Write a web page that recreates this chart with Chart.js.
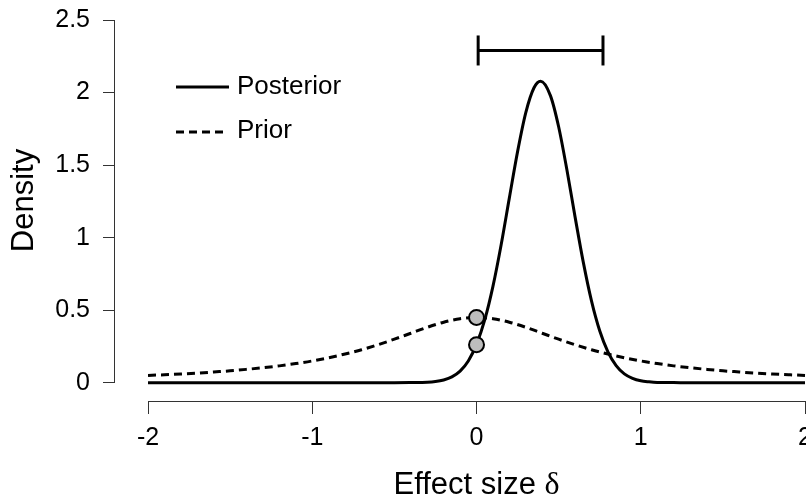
<!DOCTYPE html>
<html><head><meta charset="utf-8">
<script src="https://cdn.jsdelivr.net/npm/chart.js@4.4.1/dist/chart.umd.min.js"></script>
<style>html,body{margin:0;padding:0;background:#fff;overflow:hidden}canvas{display:block}</style>
</head><body>
<canvas id="c" width="806" height="498"></canvas>
<script>
// ---- data ----
const xPrior = [-2.0,-1.9,-1.8,-1.7,-1.6,-1.5,-1.4,-1.3,-1.2,-1.1,-1.0,-0.9,-0.8,-0.7,-0.6,-0.5,-0.4,-0.3,-0.2,-0.1,0,
                0.1,0.2,0.3,0.4,0.5,0.6,0.7,0.8,0.9,1.0,1.1,1.2,1.3,1.4,1.5,1.6,1.7,1.8,1.9,2.0];
const priorDensity = [0.050,0.055,0.060,0.066,0.074,0.082,0.092,0.103,0.116,0.132,0.150,0.172,0.198,0.227,0.262,0.300,0.341,0.382,0.417,0.441,0.450,
                      0.441,0.417,0.382,0.341,0.300,0.262,0.227,0.198,0.172,0.150,0.132,0.116,0.103,0.092,0.082,0.074,0.066,0.060,0.055,0.050];
const xPosterior = [-2,-1.5,-1,-0.7,-0.5,-0.4,-0.3,-0.25,-0.2,-0.15,-0.1,-0.05,0,0.05,0.1,0.15,0.2,0.25,0.3,0.35,0.39,0.45,0.5,0.55,0.6,0.65,0.7,0.75,0.8,0.85,0.9,0.95,1.0,1.05,1.1,1.2,1.3,1.5,1.75,2];
const posteriorDensity = [0,0,0,0,0,0.001,0.003,0.008,0.019,0.040,0.080,0.150,0.264,0.433,0.664,0.951,1.274,1.593,1.862,2.033,2.078,1.979,1.764,1.469,1.143,0.831,0.564,0.358,0.213,0.118,0.061,0.030,0.013,0.006,0.002,0.001,0,0,0,0];
const pointX = [0, 0];
const pointDensity = [0.450, 0.262];
const ciBounds = [0.01, 0.77];
const ciLevel = 2.29;
const xTicks = [-2,-1,0,1,2];
const xTickLabels = ['-2','-1','0','1','2'];
const yTicks = [0,0.5,1,1.5,2,2.5];
const yTickLabels = ['0','0.5','1','1.5','2','2.5'];
const seriesNames = ['Posterior','Prior'];
const xTitle = 'Effect size ';
const xTitleSymbol = '\u03B4';
const yTitle = 'Density';

const SANS = '"Liberation Sans", Arial, Helvetica, sans-serif';
const SERIF = '"Liberation Serif", "Times New Roman", serif';

const decor = {
  id: 'decor',
  afterDraw(chart) {
    const {ctx, chartArea, scales:{x, y}} = chart;
    ctx.save();
    // axis lines (R style, spanning first..last tick)
    ctx.strokeStyle = '#333'; ctx.lineWidth = 1; ctx.setLineDash([]);
    const ay = Math.round(chartArea.bottom) + 0.5;
    ctx.beginPath();
    ctx.moveTo(x.getPixelForValue(xTicks[0]), ay);
    ctx.lineTo(x.getPixelForValue(xTicks[xTicks.length-1]), ay);
    ctx.stroke();
    const ax = Math.round(chartArea.left) - 0.5;
    ctx.beginPath();
    ctx.moveTo(ax, y.getPixelForValue(yTicks[0]));
    ctx.lineTo(ax, y.getPixelForValue(yTicks[yTicks.length-1]));
    ctx.stroke();
    // legend
    ctx.strokeStyle = '#000'; ctx.lineWidth = 3; ctx.lineCap = 'butt';
    ctx.beginPath(); ctx.moveTo(176, 87); ctx.lineTo(229, 87); ctx.stroke();
    ctx.setLineDash([8,5]);
    ctx.beginPath(); ctx.moveTo(176, 132); ctx.lineTo(223, 132); ctx.stroke();
    ctx.setLineDash([]);
    ctx.fillStyle = '#000';
    ctx.font = '26px ' + SANS;
    ctx.textAlign = 'left'; ctx.textBaseline = 'middle';
    ctx.fillText(seriesNames[0], 237, 87);
    ctx.fillText(seriesNames[1], 237, 131);
    // x axis title, centred on the zero of the axis
    ctx.textBaseline = 'alphabetic';
    ctx.font = '31px ' + SANS;
    const w1 = ctx.measureText(xTitle).width;
    ctx.font = '32px ' + SERIF;
    const w2 = ctx.measureText(xTitleSymbol).width;
    const cx = x.getPixelForValue(0);
    const start = cx - (w1 + w2) / 2;
    ctx.font = '31px ' + SANS;
    ctx.fillText(xTitle, start, 494);
    ctx.font = '32px ' + SERIF;
    ctx.fillText(xTitleSymbol, start + w1, 494);
    ctx.restore();
  }
};

new Chart(document.getElementById('c'), {
  type: 'line',
  data: {
    datasets: [
      { label: 'points', data: pointX.map((v,i)=>({x:v, y:pointDensity[i]})), showLine:false,
        pointRadius:7.5, pointBackgroundColor:'#bdbdbd', pointBorderColor:'#000', pointBorderWidth:2, order:0 },
      { label: 'CI', data: ciBounds.map(v=>({x:v, y:ciLevel})), showLine:true, borderColor:'#000', borderWidth:3,
        pointStyle:'line', pointRotation:90, pointRadius:15, pointBorderWidth:3, pointBorderColor:'#000', order:1 },
      { label: seriesNames[0], data: xPosterior.map((v,i)=>({x:v, y:posteriorDensity[i]})), borderColor:'#000', borderWidth:3,
        pointRadius:0, cubicInterpolationMode:'monotone', fill:false, order:2 },
      { label: seriesNames[1], data: xPrior.map((v,i)=>({x:v, y:priorDensity[i]})), borderColor:'#000', borderWidth:3,
        borderDash:[8,5], pointRadius:0, cubicInterpolationMode:'monotone', fill:false, order:3 }
    ]
  },
  options: {
    responsive:false, animation:false, events:[],
    layout:{ padding:0, autoPadding:false },
    plugins:{ legend:{display:false}, tooltip:{enabled:false}, title:{display:false} },
    scales:{
      x:{ type:'linear', min:-2.201, max:2.006,
        afterBuildTicks: s => { s.ticks = xTicks.map(v=>({value:v})); },
        afterFit: s => { s.height = 97; s.paddingLeft = 0; s.paddingRight = 0; },
        grid:{ display:true, drawOnChartArea:false, drawTicks:true, tickLength:13, color:'#333', lineWidth:1 },
        border:{ display:false },
        ticks:{ padding:9, maxRotation:0, autoSkip:false, color:'#000', font:{family:SANS, size:25},
          callback:(v,i)=>xTickLabels[i] },
        title:{ display:false }
      },
      y:{ type:'linear', min:-0.1261, max:2.6379,
        afterBuildTicks: s => { s.ticks = yTicks.map(v=>({value:v})); },
        afterFit: s => { s.width = 115; s.paddingTop = 0; s.paddingBottom = 0; },
        grid:{ display:true, drawOnChartArea:false, drawTicks:true, tickLength:12, color:'#333', lineWidth:1 },
        border:{ display:false },
        ticks:{ padding:13, autoSkip:false, color:'#000', font:{family:SANS, size:25},
          callback:(v,i)=>yTickLabels[i] },
        title:{ display:true, text:yTitle, color:'#000', font:{family:SANS, size:31, lineHeight:1}, padding:{top:9, bottom:0} }
      }
    }
  },
  plugins:[decor]
});
</script>
</body></html>
